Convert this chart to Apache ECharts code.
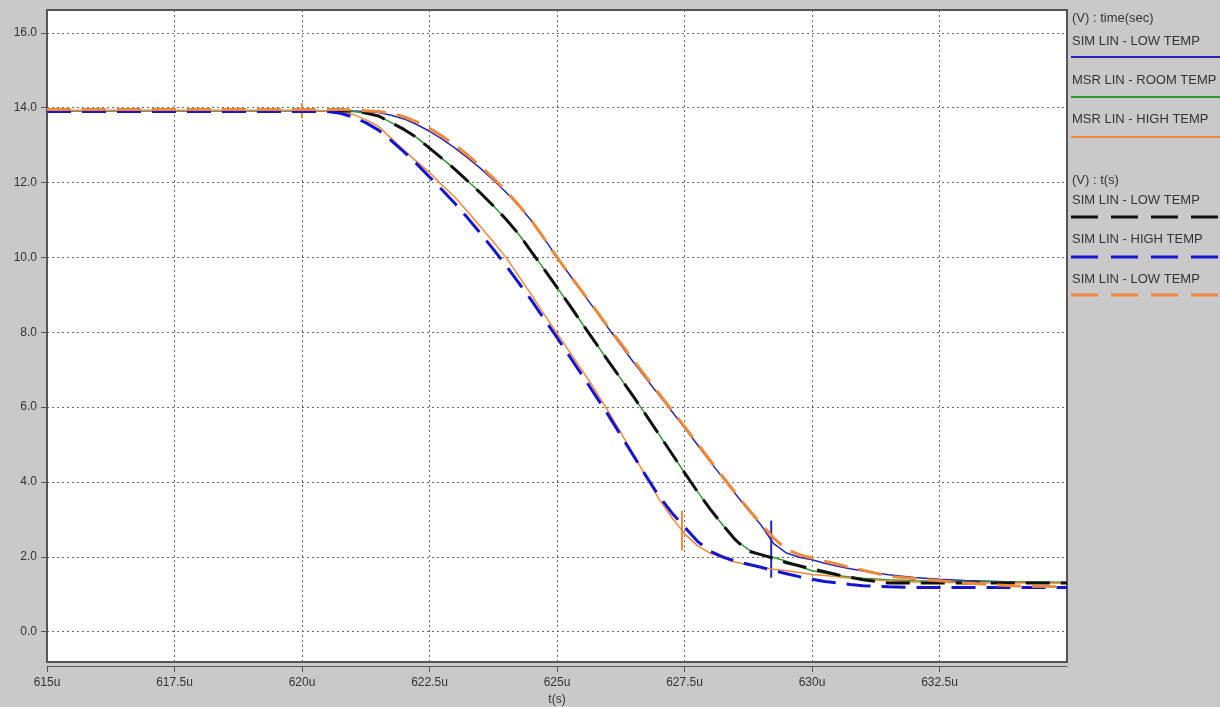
<!DOCTYPE html>
<html><head><meta charset="utf-8">
<script src="https://cdn.jsdelivr.net/npm/echarts@6/dist/echarts.min.js"></script>
<style>html,body{margin:0;padding:0;background:#c9c9c9;}#c{width:1220px;height:707px;}</style>
</head><body><div id="c"></div>
<script>
// ---------- DATA ----------
const groupTitles = ['(V) : time(sec)', '(V) : t(s)'];
const seriesNames = ['SIM LIN - LOW TEMP', 'MSR LIN - ROOM TEMP', 'MSR LIN - HIGH TEMP',
                     'SIM LIN - LOW TEMP', 'SIM LIN - HIGH TEMP', 'SIM LIN - LOW TEMP'];
const xTickValues = [615, 617.5, 620, 622.5, 625, 627.5, 630, 632.5];
const yTickValues = [0, 2, 4, 6, 8, 10, 12, 14, 16];
const tMain = [615, 617.5, 620, 620.5, 620.75, 621, 621.25, 621.5, 621.75, 622, 622.25, 622.5, 622.75,
  623, 623.25, 623.5, 623.75, 624, 624.25, 624.5, 624.75, 625, 625.25, 625.5, 625.75, 626, 626.25,
  626.5, 626.75, 627, 627.25, 627.5, 627.75, 628, 628.25, 628.5, 628.75, 629, 629.25, 629.5, 629.75,
  630, 630.25, 630.5, 630.75, 631, 631.5, 632, 632.5, 633, 634, 635];
const simLowSec = [13.92, 13.92, 13.92, 13.92, 13.92, 13.91, 13.9, 13.87, 13.8, 13.7, 13.55, 13.37, 13.16,
  12.92, 12.66, 12.38, 12.07, 11.74, 11.38, 10.98, 10.5, 10.0, 9.53, 9.06, 8.59, 8.12, 7.66,
  7.2, 6.76, 6.32, 5.89, 5.45, 5.0, 4.55, 4.11, 3.68, 3.25, 2.85, 2.35, 2.1, 1.99,
  1.92, 1.83, 1.75, 1.68, 1.62, 1.52, 1.45, 1.4, 1.37, 1.33, 1.31];
const msrRoom = [13.92, 13.92, 13.92, 13.92, 13.92, 13.9, 13.86, 13.78, 13.6, 13.42, 13.2, 12.92, 12.64,
  12.35, 12.04, 11.72, 11.38, 11.02, 10.62, 10.15, 9.68, 9.2, 8.72, 8.22, 7.73, 7.24, 6.76,
  6.28, 5.78, 5.27, 4.76, 4.25, 3.75, 3.28, 2.85, 2.45, 2.2, 2.05, 1.98, 1.88, 1.74,
  1.63, 1.56, 1.5, 1.46, 1.43, 1.39, 1.36, 1.35, 1.34, 1.33, 1.32];
const msrHigh = [13.93, 13.93, 13.93, 13.92, 13.9, 13.82, 13.68, 13.5, 13.18, 12.86, 12.56, 12.27, 11.93,
  11.6, 11.22, 10.82, 10.42, 10.0, 9.5, 9.0, 8.48, 7.97, 7.47, 6.97, 6.45, 5.9, 5.32,
  4.74, 4.12, 3.55, 3.05, 2.62, 2.3, 2.1, 1.97, 1.86, 1.78, 1.72, 1.67, 1.63, 1.58,
  1.53, 1.5, 1.47, 1.43, 1.4, 1.36, 1.33, 1.32, 1.31, 1.3, 1.3];
const simLowT = [13.92, 13.92, 13.92, 13.92, 13.92, 13.9, 13.86, 13.78, 13.6, 13.42, 13.2, 12.92, 12.64,
  12.35, 12.04, 11.72, 11.38, 11.02, 10.62, 10.15, 9.68, 9.2, 8.72, 8.22, 7.73, 7.24, 6.76,
  6.28, 5.78, 5.27, 4.76, 4.25, 3.75, 3.28, 2.85, 2.45, 2.15, 2.06, 1.96, 1.84, 1.76,
  1.68, 1.6, 1.52, 1.45, 1.39, 1.3, 1.3, 1.3, 1.3, 1.3, 1.3];
const simHighT = [13.9, 13.9, 13.9, 13.9, 13.85, 13.75, 13.6, 13.4, 13.12, 12.82, 12.5, 12.15, 11.8,
  11.44, 11.05, 10.64, 10.22, 9.78, 9.32, 8.85, 8.35, 7.86, 7.35, 6.84, 6.32, 5.8, 5.25,
  4.7, 4.15, 3.62, 3.18, 2.8, 2.42, 2.15, 2.0, 1.88, 1.8, 1.72, 1.63, 1.55, 1.47,
  1.4, 1.34, 1.3, 1.26, 1.23, 1.2, 1.18, 1.18, 1.18, 1.18, 1.18];
const simLowT2 = [13.95, 13.95, 13.95, 13.95, 13.95, 13.94, 13.92, 13.9, 13.85, 13.76, 13.62, 13.45, 13.24,
  13.0, 12.73, 12.44, 12.12, 11.78, 11.4, 10.98, 10.5, 10.0, 9.53, 9.07, 8.61, 8.15, 7.7,
  7.25, 6.8, 6.36, 5.92, 5.48, 5.03, 4.58, 4.14, 3.7, 3.28, 2.88, 2.5, 2.2, 2.06,
  1.97, 1.88, 1.8, 1.72, 1.64, 1.48, 1.42, 1.36, 1.3, 1.22, 1.2];
// glitch spikes: [time, top, bottom]
const spikesHigh = [[620.0, 14.12, 13.72], [627.45, 3.23, 2.17]];
const spikesSimLow = [[629.2, 2.97, 1.44]];

// ---------- STYLE ----------
const colors = ['#2626b8', '#2c9a2c', '#f0883a', '#111111', '#1414d2', '#f0883a'];
const dashed = [false, false, false, true, true, true];
const valueSets = [simLowSec, msrRoom, msrHigh, simLowT, simHighT, simLowT2];
const spikeSets = [spikesSimLow, null, spikesHigh, null, null, null];

const series = [];
[0, 1, 2, 3, 4, 5].forEach(i => {
  series.push({
    name: seriesNames[i] + '#' + i, type: 'line', symbol: 'none', animation: false,
    data: tMain.map((t, k) => [t, valueSets[i][k]]),
    lineStyle: dashed[i] ? {color: colors[i], width: 3, type: [24, 11]} : {color: colors[i], width: 1.5},
    z: dashed[i] ? 4 : 3
  });
  if (spikeSets[i]) spikeSets[i].forEach(s => {
    series.push({
      type: 'line', symbol: 'none', animation: false,
      data: [[s[0], s[1]], [s[0], s[2]]],
      lineStyle: {color: colors[i], width: 2}, z: 3
    });
  });
});

// legend via graphic
const graphic = [];
const textEl = (txt, y) => ({type: 'text', x: 1072, y: y,
  style: {text: txt, fill: '#333', verticalAlign: 'middle',
          font: '13px "Liberation Sans", Arial, sans-serif'}});
graphic.push(textEl(groupTitles[0], 18));
graphic.push(textEl(groupTitles[1], 180));
const itemTextY = [41, 80, 119, 200, 239, 279];
const itemLineY = [57, 97, 137, 217, 257, 295];
for (let i = 0; i < 6; i++) {
  graphic.push(textEl(seriesNames[i], itemTextY[i]));
  graphic.push({type: 'line', shape: {x1: 1071, y1: itemLineY[i], x2: 1220, y2: itemLineY[i]},
    style: dashed[i] ? {stroke: colors[i], lineWidth: 3, lineDash: [27, 13]} : {stroke: colors[i], lineWidth: 2}});
}

const chart = echarts.init(document.getElementById('c'), null, {renderer: 'canvas'});
chart.setOption({
  backgroundColor: '#c9c9c9',
  animation: false,
  grid: {left: 47, right: 153, top: 10, bottom: 45, show: true, backgroundColor: '#ffffff',
    borderColor: '#555', borderWidth: 2, containLabel: false, outerBoundsMode: 'none'},
  xAxis: {
    type: 'value', min: 615, max: 635, interval: 2.5, offset: 4,
    name: 't(s)', nameLocation: 'middle', nameGap: 24,
    nameTextStyle: {color: '#333', fontSize: 12, fontFamily: 'Liberation Sans, Arial'},
    axisLine: {show: true, onZero: false, lineStyle: {color: '#555', width: 1}},
    axisTick: {show: true, length: 6, lineStyle: {color: '#555'}, customValues: xTickValues},
    axisLabel: {color: '#333', fontSize: 12, fontFamily: 'Liberation Sans, Arial', margin: 11,
      customValues: xTickValues, formatter: v => v + 'u'},
    splitLine: {show: true, lineStyle: {color: '#666', type: [2, 3], width: 1}}
  },
  yAxis: {
    type: 'value', min: -0.81, max: 16.61, splitNumber: 8,
    axisLine: {show: true, onZero: false, lineStyle: {color: '#555', width: 1}},
    axisTick: {show: true, length: 6, lineStyle: {color: '#555'}, customValues: yTickValues},
    axisLabel: {color: '#333', fontSize: 12, fontFamily: 'Liberation Sans, Arial', margin: 10,
      customValues: yTickValues,
      formatter: v => (Math.abs(v / 2 - Math.round(v / 2)) < 1e-6 ? v.toFixed(1) : '')},
    splitLine: {show: true, lineStyle: {color: '#666', type: [2, 3], width: 1}}
  },
  graphic: graphic,
  series: series
});
</script></body></html>
